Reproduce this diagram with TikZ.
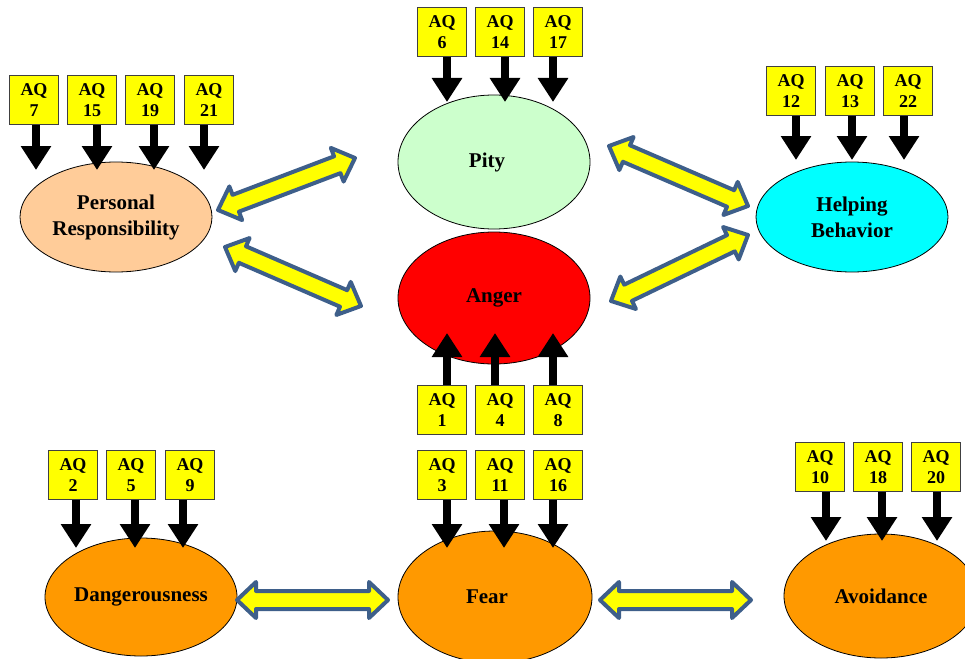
\documentclass[tikz,border=0pt]{standalone}
\usepackage{fontspec}
\setmainfont{Liberation Serif}
\usetikzlibrary{shapes.geometric,arrows.meta,calc}
\definecolor{boxyellow}{HTML}{FFFF00}
\definecolor{peach}{HTML}{FFCC99}
\definecolor{mint}{HTML}{CCFFCC}
\definecolor{angerred}{HTML}{FF0000}
\definecolor{aqua}{HTML}{00FFFF}
\definecolor{amber}{HTML}{FF9900}
\definecolor{steel}{HTML}{3E5F8A}
\tikzset{
  aq/.style={draw=black!75, line width=0.8pt, fill=boxyellow, minimum size=49pt,
    inner sep=0pt, align=center, font=\fontsize{18}{21}\selectfont\bfseries},
  blob/.style={ellipse, draw=black, line width=0.8pt, inner sep=0pt, align=center,
    font=\fontsize{21}{26}\selectfont\bfseries},
  feed/.style={draw=black, line width=8pt, -{Triangle[width=29pt,length=24pt]}},
  twoway/.style={draw=steel, fill=boxyellow, line width=4pt, line join=round,
    to path={let \p1=(\tikztostart), \p2=(\tikztotarget),
      \n1={atan2(\y2-\y1,\x2-\x1)}, \n2={veclen(\x2-\x1,\y2-\y1)} in
      [shift={(\p1)}, rotate=\n1]
      (0pt,0pt) -- (19pt,18pt) -- (19pt,9pt) -- ({\n2-19pt},9pt) -- ({\n2-19pt},18pt)
      -- ({\n2},0pt) -- ({\n2-19pt},-18pt) -- ({\n2-19pt},-9pt) -- (19pt,-9pt)
      -- (19pt,-18pt) -- cycle}}
}
\begin{document}
\begin{tikzpicture}[x=1pt,y=-1pt]
\useasboundingbox (0,0) rectangle (965,658);

% construct ellipses
\node[blob, fill=peach, minimum width=192pt, minimum height=110pt] (pr) at (116,217) {Personal\\Responsibility};
\node[blob, fill=mint, minimum width=192pt, minimum height=134pt] (pity) at (494,162) {Pity\hspace*{14pt}};
\node[blob, fill=angerred, minimum width=192pt, minimum height=132pt] (anger) at (494,298) {Anger};
\node[blob, fill=aqua, minimum width=192pt, minimum height=110pt] (help) at (852,217) {Helping\\Behavior};
\node[blob, fill=amber, minimum width=192pt, minimum height=118pt] (danger) at (141,597) {Dangerousness};
\node[blob, fill=amber, minimum width=194pt, minimum height=132pt] (fear) at (495,597) {Fear\hspace*{16pt}};
\node[blob, fill=amber, minimum width=194pt, minimum height=124pt] (avoid) at (881,596) {Avoidance};

% item boxes
\node[aq] (aq7)  at (34,100)  {AQ\\7};
\node[aq] (aq15) at (92,100)  {AQ\\15};
\node[aq] (aq19) at (150,100) {AQ\\19};
\node[aq] (aq21) at (209,100) {AQ\\21};

\node[aq] (aq6)  at (442,32) {AQ\\6};
\node[aq] (aq14) at (500,32) {AQ\\14};
\node[aq] (aq17) at (558,32) {AQ\\17};

\node[aq] (aq1) at (442,410) {AQ\\1};
\node[aq] (aq4) at (500,410) {AQ\\4};
\node[aq] (aq8) at (558,410) {AQ\\8};

\node[aq] (aq12) at (791,91) {AQ\\12};
\node[aq] (aq13) at (850,91) {AQ\\13};
\node[aq] (aq22) at (908,91) {AQ\\22};

\node[aq] (aq2) at (73,475)  {AQ\\2};
\node[aq] (aq5) at (131,475) {AQ\\5};
\node[aq] (aq9) at (190,475) {AQ\\9};

\node[aq] (aq3)  at (442,475) {AQ\\3};
\node[aq] (aq11) at (500,475) {AQ\\11};
\node[aq] (aq16) at (558,475) {AQ\\16};

\node[aq] (aq10) at (820,467) {AQ\\10};
\node[aq] (aq18) at (878,467) {AQ\\18};
\node[aq] (aq20) at (936,467) {AQ\\20};

% levels where the item arrows end
\coordinate (prtip) at (0,170);
\coordinate (pitytip) at (0,102);
\coordinate (angertip) at (0,333);
\coordinate (helptip) at (0,160);
\coordinate (lowtip) at (0,548);
\coordinate (avtip) at (0,541);

% item arrows
\foreach \b/\s in {aq7/2, aq15/5, aq19/4, aq21/-5}
  \draw[feed] ([xshift=\s pt]\b.south) -- ([xshift=\s pt]\b.south |- prtip);
\foreach \b/\s in {aq6/5, aq14/5, aq17/-5}
  \draw[feed] ([xshift=\s pt]\b.south) -- ([xshift=\s pt]\b.south |- pitytip);
\foreach \b/\s in {aq1/5, aq4/-5, aq8/-5}
  \draw[feed] ([xshift=\s pt]\b.north) -- ([xshift=\s pt]\b.north |- angertip);
\foreach \b/\s in {aq12/5, aq13/2, aq22/-4}
  \draw[feed] ([xshift=\s pt]\b.south) -- ([xshift=\s pt]\b.south |- helptip);
\foreach \b/\s in {aq2/3, aq5/4, aq9/-7}
  \draw[feed] ([xshift=\s pt]\b.south) -- ([xshift=\s pt]\b.south |- lowtip);
\foreach \b/\s in {aq3/5, aq11/4, aq16/-5}
  \draw[feed] ([xshift=\s pt]\b.south) -- ([xshift=\s pt]\b.south |- lowtip);
\foreach \b/\s in {aq10/6, aq18/4, aq20/1}
  \draw[feed] ([xshift=\s pt]\b.south) -- ([xshift=\s pt]\b.south |- avtip);

% ends of the two-way arrows
\coordinate (a1) at (218,210); \coordinate (b1) at (355,158);
\coordinate (a2) at (225,247); \coordinate (b2) at (361,306);
\coordinate (a3) at (609,146); \coordinate (b3) at (748,206);
\coordinate (a4) at (611,301); \coordinate (b4) at (748,235);
\coordinate (a5) at (237,600); \coordinate (b5) at (388,600);
\coordinate (a6) at (600,600); \coordinate (b6) at (751,600);

\foreach \i in {1,...,6}
  \draw[twoway] (a\i) to (b\i);
\end{tikzpicture}
\end{document}
